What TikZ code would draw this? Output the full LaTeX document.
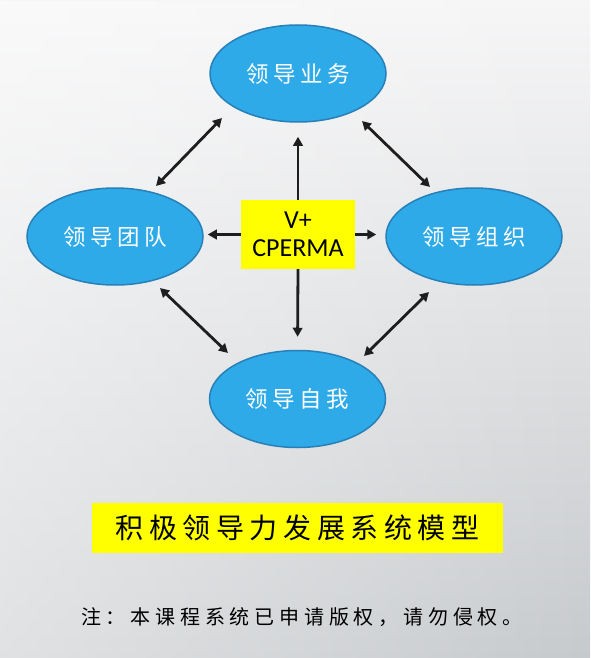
\documentclass[tikz,border=0pt]{standalone}
\usepackage{fontspec}
\newfontfamily\cjkell[LetterSpace=20]{Noto Sans CJK SC}
\newfontfamily\cjktitle[LetterSpace=20]{Noto Sans CJK SC}
\newfontfamily\cjknote[LetterSpace=24]{Noto Sans CJK SC}
\newfontfamily\latinbox{Carlito}
\usetikzlibrary{arrows.meta,shapes.geometric,fadings}
\definecolor{ellfill}{RGB}{46,170,232}
\definecolor{elldraw}{RGB}{40,128,185}
\definecolor{arrcol}{RGB}{30,30,30}
\definecolor{bgtop}{RGB}{246,246,247}
\definecolor{bgbot}{RGB}{199,202,205}
\definecolor{boxyellow}{RGB}{255,255,0}
\tikzset{
  ell/.style={ellipse, fill=ellfill, draw=elldraw, line width=1.5pt,
    minimum width=176pt, minimum height=97pt, inner sep=0pt,
    text=white, font=\cjkell\fontsize{22.5}{24}\selectfont},
  centerbox/.style={rectangle, fill=boxyellow, minimum width=114pt,
    minimum height=69pt, inner sep=0pt, align=center,
    font=\latinbox\fontsize{26}{28}\selectfont},
  titlebox/.style={rectangle, fill=boxyellow, minimum width=411pt,
    minimum height=50pt, inner sep=0pt, font=\cjktitle\fontsize{28}{30}\selectfont},
  notetext/.style={inner sep=0pt, font=\cjknote\fontsize{20}{22}\selectfont},
  arr/.style={draw=arrcol, line width=2.8pt, -{Triangle[length=9pt,width=9.5pt]}},
  darr/.style={draw=arrcol, line width=2.8pt, {Triangle[length=9pt,width=9.5pt]}-{Triangle[length=9pt,width=9.5pt]}}
}
\begin{document}
\begin{tikzpicture}[x=1pt,y=-1pt]
\useasboundingbox (0,0) rectangle (590,658);
\shade[top color=bgtop, bottom color=bgbot] (0,0) rectangle (590,658);
\fill[white, opacity=0.45, path fading=east] (0,0) rectangle (590,658);

\node[ell] (T) at (298,73.5) {领导业务};
\node[ell] (L) at (115,236.5) {领导团队};
\node[ell] (R) at (474,236.5) {领导组织};
\node[ell] (B) at (297.5,399) {领导自我};

\node[centerbox] (C) at (298,234.5) {V+\\CPERMA};

\node[titlebox] (title) at (297.5,528) {积极领导力发展系统模型};
\node[notetext] (note) at (302,617) {注：本课程系统已申请版权，请勿侵权。};

\draw[arr, shorten >=14pt] (C.north) -- (T.south);
\draw[arr, shorten >=13pt] (C.south) -- (B.north);
\draw[arr, shorten >=4pt] (C.west) -- (L.east |- C.west);
\draw[arr, shorten >=9pt] (C.east) -- (R.west |- C.east);

\coordinate (tl1) at (156,186);
\coordinate (tl2) at (222,118);
\coordinate (tr1) at (362,121);
\coordinate (tr2) at (430,187);
\coordinate (bl1) at (160,288);
\coordinate (bl2) at (228,353);
\coordinate (br1) at (429,292);
\coordinate (br2) at (364,356);
\draw[darr] (tl1) -- (tl2);
\draw[darr] (tr1) -- (tr2);
\draw[darr] (bl1) -- (bl2);
\draw[darr] (br1) -- (br2);
\end{tikzpicture}
\end{document}
